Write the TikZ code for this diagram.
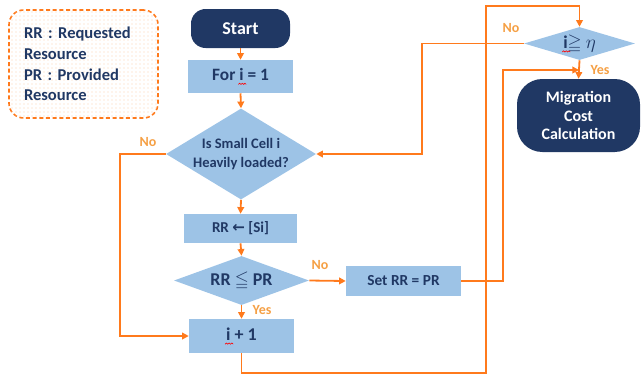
\documentclass[tikz,border=0pt]{standalone}
\usepackage{fontspec}
\setmainfont{Carlito}
\newfontfamily\symfont{DejaVu Sans}
\usepackage{amssymb}
\usetikzlibrary{shapes.geometric,arrows.meta,patterns}

\definecolor{navy}{HTML}{203864}
\definecolor{lblue}{HTML}{9DC3E6}
\definecolor{lineor}{HTML}{FF7A1C}
\definecolor{lblor}{HTML}{F5A045}
\definecolor{dotor}{HTML}{FBD3AE}

% red spell-check wave under a word
\newcommand\spellwave[1]{\leavevmode\rlap{\kern-1pt\raisebox{-3pt}{\tikz[x=1pt,y=1pt,baseline=0pt]
  \draw[red,line width=0.45pt] (0,0) -- (1,0.9) -- (2,0) -- (3,0.9) -- (4,0) -- (5,0.9) -- (6,0);}}#1}
\newcommand\fs[2]{\fontsize{#1}{#2}\selectfont}

\tikzset{
  darkbox/.style={draw=none, fill=navy, text=white, font=\bfseries, align=center, inner sep=0pt},
  lightbox/.style={rectangle, draw=none, fill=lblue, text=navy, font=\bfseries, align=center, inner sep=0pt},
  decision/.style={diamond, draw=none, fill=lblue, text=navy, font=\bfseries, align=center, inner sep=0pt},
  conn/.style={draw=lineor, line width=1.35pt, -{Triangle[length=5pt,width=5pt]}},
  branch/.style={text=lblor, font=\bfseries\fs{10.5}{12}, inner sep=0pt},
}

\begin{document}
\begin{tikzpicture}[x=0.75pt,y=-0.75pt]
\useasboundingbox (0,0) rectangle (641,376);

% legend
\node (legend) [rectangle, rounded corners=11pt, draw=lineor, line width=1.2pt,
  dash pattern=on 3pt off 2pt, fill=white, postaction={pattern=dots, pattern color=dotor},
  minimum width=111.75pt, minimum height=81pt, inner xsep=11.25pt, inner ysep=0pt,
  text width=89.25pt, align=left, text=navy, font=\bfseries\fs{12.4}{15.5}]
  at (83.5,64) {RR : Requested\\Resource\\PR : Provided\\Resource};

% main column
\node (start) [darkbox, rectangle, rounded corners=11pt, minimum width=74.25pt,
  minimum height=29.25pt, font=\bfseries\fs{13.5}{16}] at (240.5,28.5) {Start};
\node (for) [lightbox, minimum width=78.75pt, minimum height=24.75pt,
  font=\bfseries\fs{13}{15}] at (240.5,76.5) {For \spellwave{i} = 1};
\node (d1) [decision, shape aspect=1.65, minimum width=112.5pt, minimum height=68.25pt,
  font=\bfseries\fs{10.9}{14}] at (241,154) {Is Small Cell i\\Heavily loaded?};
\node (rr) [lightbox, minimum width=84.75pt, minimum height=21.75pt,
  font=\bfseries\fs{11.3}{13}] at (240.5,228.5) {RR {\symfont\bfseries ←} [Si]};
\node (d2) [decision, shape aspect=2.75, minimum width=101.25pt, minimum height=36.75pt,
  font=\bfseries\fs{13.5}{16}] at (241.5,280.5) {RR $\mathord{\leqq}$ PR};
\node (set) [lightbox, minimum width=86.25pt, minimum height=22.5pt,
  font=\bfseries\fs{11.5}{13}] at (403.5,281) {Set RR = PR};
\node (inc) [lightbox, minimum width=78.75pt, minimum height=25.5pt,
  font=\bfseries\fs{13.5}{16}] at (241.5,336) {\spellwave{i} + 1};

% right column
\node (d3) [decision, shape aspect=3.36, minimum width=83.25pt, minimum height=24.75pt,
  font=\bfseries\fs{13.5}{16}] at (579.5,43.5) {\spellwave{i}$\mathord{\geqq}$ $\eta$};
\node (mig) [darkbox, rectangle, rounded corners=19pt, minimum width=92.25pt,
  minimum height=54.75pt, font=\bfseries\fs{12}{13.7}] at (578.5,115.5)
  {Migration\\Cost\\Calculation};

% straight flow
\draw[conn] (start.south) -- (for.north);
\draw[conn] (for.south) -- (d1.north);
\draw[conn] (d1.south) -- (rr.north);
\draw[conn] (rr.south) -- (d2.north);
\draw[conn] (d2.south) -- (inc.north);
\draw[conn] (d2.east) -- (set.west);
\draw[conn] (d3.south) -- (mig.north);

% "No" from the load test goes straight to i + 1
\draw[conn] (d1.west) -- (120,154) |- (inc.west);

% loop from i + 1 back up to the threshold test
\draw[conn] (inc.south) |- (486,373) -- (486,6) -| (d3.north);

% Set RR = PR joins the Yes branch
\coordinate (join) at (579,70);
\draw[conn] (set.east) -| (503,70) -- (join);

% "No" from the threshold test returns to the load test
\draw[conn] (d3.west) -- (422,43.5) |- (d1.east);

% branch labels
\node (no1) [branch] at (148,142) {No};
\node (no2) [branch] at (320,265) {No};
\node (yes2) [branch] at (262,310) {Yes};
\node (no3) [branch] at (511,28) {No};
\node (yes3) [branch] at (600,70) {Yes};
\end{tikzpicture}
\end{document}
